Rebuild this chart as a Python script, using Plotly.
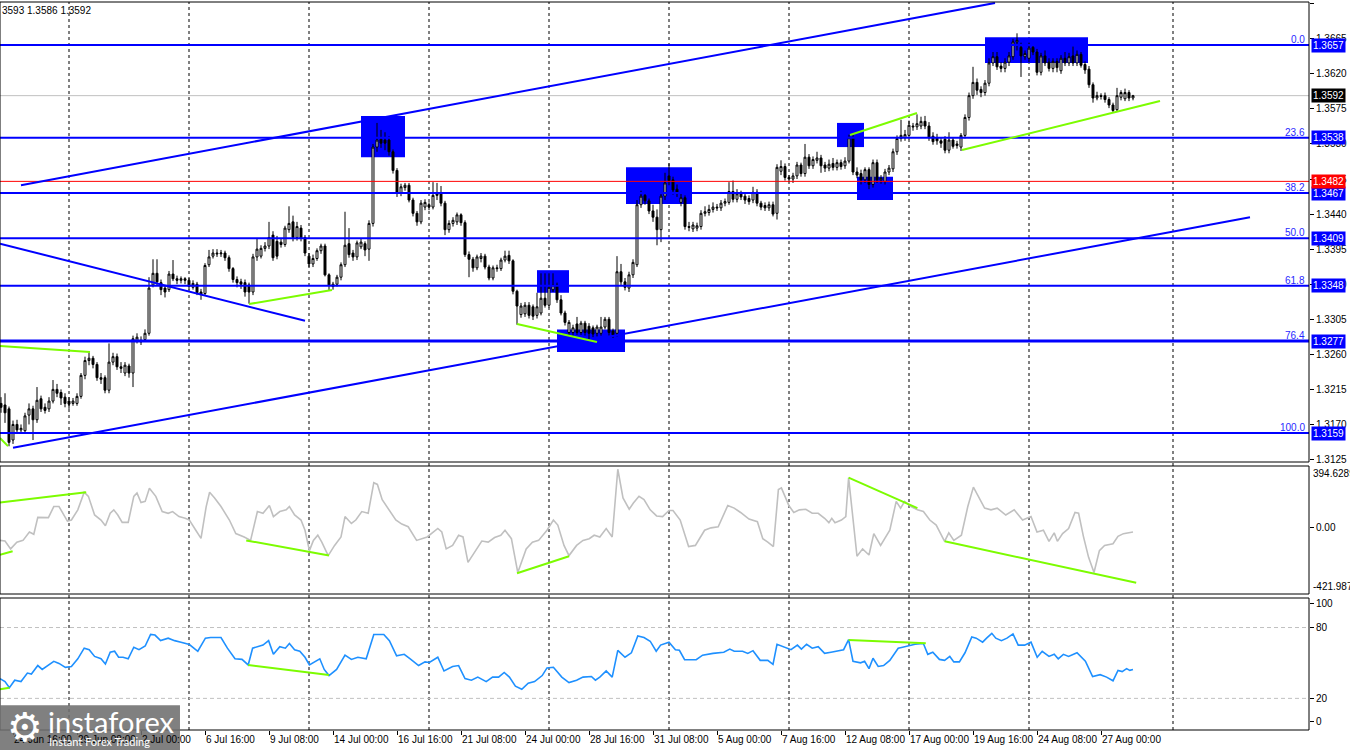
import plotly.graph_objects as go

# H4 chart, prices typed in pips above 1.3000, first bar index is -3
BASE = 1.3
FIRST_BAR = -3

open_pips = [
    197, 195, 190, 150, 170, 163, 162, 182, 190, 176, 203, 192, 190,
    200, 215, 211, 205, 200, 197, 197, 206, 233, 252,
    255, 247, 230, 230, 214, 250, 257, 244, 236, 245,
    236, 278, 276, 279, 287, 349, 364, 352, 345, 343,
    363, 357, 355, 357, 355, 346, 350, 340, 338, 375,
    386, 390, 389, 390, 384, 370, 356, 353, 352, 349,
    340, 385, 386, 396, 399, 413, 405, 404, 401, 420,
    430, 410, 422, 410, 386, 376, 383, 393, 399, 362,
    347, 350, 359, 375, 402, 390, 385, 398, 402, 395,
    428, 526, 536, 535, 535, 520, 496, 467, 474, 477,
    458, 441, 430, 449, 452, 449, 464, 466, 454, 420,
    428, 430, 439, 429, 388, 382, 371, 383, 386, 372,
    358, 371, 370, 381, 387, 380, 341, 311, 312, 323,
    321, 310, 313, 332, 323, 343, 349, 330, 313, 288,
    288, 299, 288, 300, 296, 294, 287, 287, 295, 305,
    290, 287, 366, 353, 345, 362, 375, 452, 464, 457,
    444, 436, 420, 463, 489, 484, 472, 455, 461, 424,
    421, 422, 424, 441, 442, 446, 449, 448, 454, 455,
    469, 459, 466, 463, 460, 458, 468, 454, 451, 448,
    452, 441, 495, 501, 487, 485, 489, 503, 492, 513,
    502, 509, 512, 503, 499, 505, 500, 506, 502, 508,
    538, 494, 492, 484, 497, 478, 506, 484, 482, 494,
    498, 520, 537, 538, 541, 553, 552, 553, 559, 553,
    540, 538, 534, 536, 522, 535, 528, 526, 541, 564,
    592, 609, 600, 596, 608, 634, 642, 630, 627, 635,
    642, 661, 654, 642, 640, 654, 648, 622, 643, 635,
    627, 636, 624, 640, 634, 643, 634, 645, 632, 626,
    606, 589, 592, 592, 587, 580, 574, 590, 588, 596, 589,
]
high_pips = [
    205, 210, 193, 175, 176, 170, 185, 197, 194, 218, 207, 197, 205,
    227, 222, 215, 210, 205, 204, 210, 236, 257, 262,
    258, 250, 236, 233, 274, 262, 261, 250, 250, 248,
    284, 287, 283, 292, 359, 382, 382, 356, 348, 367,
    381, 361, 360, 359, 358, 355, 353, 344, 377, 394,
    395, 395, 394, 393, 387, 372, 360, 357, 356, 352,
    389, 408, 400, 404, 430, 418, 412, 409, 425, 450,
    438, 430, 426, 413, 390, 388, 396, 402, 402, 364,
    353, 362, 378, 443, 422, 394, 406, 408, 405, 432,
    530, 557, 548, 545, 540, 523, 499, 479, 480, 480,
    461, 444, 458, 459, 455, 481, 480, 476, 457, 432,
    436, 442, 441, 432, 392, 385, 388, 390, 389, 375,
    374, 375, 384, 393, 393, 382, 343, 326, 327, 327,
    324, 339, 364, 364, 364, 364, 352, 336, 316, 304,
    298, 308, 303, 303, 300, 297, 298, 308, 308, 308,
    293, 386, 376, 358, 366, 382, 458, 470, 468, 460,
    452, 446, 468, 493, 505, 488, 478, 466, 464, 430,
    430, 429, 445, 450, 452, 455, 453, 458, 460, 481,
    483, 472, 470, 467, 464, 475, 472, 457, 455, 456,
    456, 504, 509, 505, 490, 493, 507, 506, 530, 517,
    514, 520, 516, 507, 510, 512, 510, 510, 513, 542,
    542, 500, 497, 500, 500, 510, 510, 490, 498, 503,
    524, 541, 561, 548, 560, 557, 568, 565, 566, 558,
    545, 543, 538, 540, 545, 538, 534, 544, 568, 596,
    629, 614, 604, 612, 640, 648, 648, 635, 640, 648,
    665, 672, 660, 650, 660, 658, 652, 647, 650, 640,
    640, 640, 644, 648, 647, 655, 650, 648, 636, 630,
    609, 597, 595, 596, 590, 583, 602, 599, 601, 599, 593,
]
low_pips = [
    185, 172, 142, 145, 158, 158, 158, 170, 150, 172, 186, 184, 186,
    197, 205, 195, 192, 190, 194, 194, 203, 228, 246,
    242, 226, 222, 210, 210, 246, 240, 236, 232, 230,
    218, 274, 272, 276, 284, 346, 349, 336, 333, 340,
    354, 350, 351, 350, 343, 343, 336, 330, 335, 372,
    383, 385, 385, 380, 366, 352, 346, 344, 334, 325,
    336, 380, 383, 392, 395, 380, 382, 397, 398, 416,
    405, 406, 405, 386, 372, 372, 380, 389, 360, 342,
    343, 347, 355, 372, 384, 380, 381, 395, 386, 380,
    424, 520, 525, 522, 515, 492, 462, 463, 470, 455,
    437, 425, 427, 445, 445, 446, 458, 450, 413, 416,
    424, 426, 425, 385, 359, 366, 368, 378, 369, 355,
    355, 366, 367, 378, 376, 337, 298, 307, 308, 306,
    304, 306, 310, 320, 320, 340, 326, 310, 297, 284,
    284, 285, 285, 284, 276, 282, 283, 284, 292, 284,
    281, 283, 349, 342, 340, 358, 372, 448, 452, 440,
    430, 400, 404, 458, 477, 465, 462, 450, 420, 418,
    417, 418, 420, 437, 438, 442, 444, 444, 450, 452,
    455, 455, 458, 453, 452, 454, 450, 445, 444, 444,
    437, 433, 490, 483, 481, 480, 485, 488, 488, 498,
    498, 505, 493, 494, 495, 496, 496, 497, 498, 505,
    490, 486, 478, 480, 472, 474, 480, 479, 478, 490,
    494, 516, 533, 534, 536, 547, 548, 549, 549, 534,
    529, 529, 525, 518, 518, 524, 524, 521, 537, 560,
    588, 593, 590, 592, 604, 630, 625, 622, 622, 630,
    638, 650, 616, 638, 635, 644, 618, 618, 630, 623,
    622, 622, 620, 630, 630, 630, 630, 628, 620, 602,
    583, 586, 587, 583, 576, 570, 571, 586, 585, 585, 586,
]
close_pips = [
    192, 185, 147, 170, 163, 165, 181, 190, 176, 201, 190, 188, 200,
    215, 210, 204, 197, 196, 200, 206, 233, 252, 255,
    247, 230, 228, 214, 250, 257, 244, 242, 246, 236,
    280, 282, 278, 287, 345, 364, 353, 343, 340, 363,
    357, 355, 357, 355, 347, 351, 339, 337, 374, 385,
    390, 389, 390, 384, 370, 356, 352, 350, 340, 340,
    385, 395, 396, 399, 410, 384, 386, 401, 422, 428,
    410, 424, 409, 390, 376, 383, 393, 399, 362, 349,
    350, 359, 375, 400, 388, 385, 403, 404, 394, 428,
    526, 535, 531, 531, 520, 496, 467, 475, 477, 458,
    441, 430, 454, 455, 449, 464, 466, 454, 420, 428,
    432, 439, 429, 388, 382, 371, 385, 386, 372, 358,
    371, 370, 381, 386, 380, 341, 322, 322, 323, 310,
    309, 321, 332, 323, 346, 349, 330, 313, 301, 301,
    294, 288, 300, 288, 287, 286, 295, 295, 305, 288,
    285, 366, 353, 346, 362, 378, 452, 463, 457, 444,
    436, 420, 463, 480, 483, 471, 467, 461, 424, 423,
    426, 425, 441, 443, 446, 449, 448, 454, 456, 469,
    459, 466, 462, 458, 456, 468, 454, 449, 448, 452,
    440, 500, 501, 487, 485, 489, 503, 492, 513, 502,
    510, 512, 502, 499, 504, 500, 506, 501, 508, 538,
    494, 490, 484, 497, 478, 506, 484, 486, 494, 499,
    520, 537, 541, 542, 554, 552, 556, 559, 553, 538,
    533, 534, 531, 522, 535, 527, 530, 541, 564, 592,
    609, 599, 596, 608, 634, 642, 629, 627, 635, 643,
    661, 663, 643, 646, 653, 648, 622, 643, 634, 627,
    636, 628, 640, 634, 642, 634, 645, 631, 625, 606,
    589, 592, 591, 587, 580, 573, 592, 596, 596, 589, 592,
]

# CCI and RSI polyline vertices: bar position, value
cci_bar = [
    -3.25, -2.0, -0.6, 0.96, 2.5, 4.1, 5.2, 6.2, 8.85, 10.2, 11.5, 12.5, 13.6, 14.6,
    16.2, 17.8, 18.85, 20.4, 22.0, 23.1, 24.3, 25.2, 26.2, 27.3, 28.8, 30.2, 31.0,
    32.0, 33.05, 34.1, 35.7, 37.3, 38.8, 39.9, 41.5, 43.05, 44.1, 45.7, 47.0, 48.3,
    49.15, 50.4, 52.0, 54.1, 55.7, 57.8, 59.4, 61.1, 62.5, 64.1, 65.1, 66.7, 68.3,
    69.1, 70.4, 72.0, 73.0, 74.1, 75.1, 76.2, 77.2, 78.8, 80.4, 82.0, 83.0, 84.6,
    85.7, 87.2, 88.8, 90.2, 91.1, 92.3, 94.1, 95.7, 97.2, 98.8, 100.9, 102.0, 103.55,
    106.2, 107.2, 108.3, 109.9, 111.4, 112.5, 113.75, 115.1, 117.2, 118.8, 120.4,
    121.95, 123.0, 124.6, 126.2, 128.3, 129.85, 131.4, 133.5, 135.1, 136.2, 137.75,
    139.0, 140.9, 142.5, 144.05, 145.3, 146.7, 148.3, 149.8, 151.2, 152.5, 154.05,
    155.1, 156.5, 157.75, 159.3, 160.9, 162.4, 164.0, 165.0, 166.8, 168.9, 170.6,
    172.9, 174.5, 176.3, 178.7, 180.3, 181.9, 184.0, 186.1, 187.45, 188.7, 190.1,
    191.35, 192.1, 194.0, 195.2, 196.6, 198.2, 199.8, 201.3, 202.9, 203.97, 204.7,
    205.5, 207.1, 208.2, 208.9, 209.5, 211.0, 212.4, 214.0, 215.2, 216.9, 219.2,
    220.8, 221.9, 222.9, 224.5, 226.1, 227.6, 229.2, 230.8, 232.9, 233.95, 235.2,
    237.1, 238.7, 240.1, 241.3, 242.9, 244.5, 246.05, 248.2, 250.3, 252.4, 254.5,
    256.0, 257.6, 259.0, 260.3, 261.1, 262.4, 263.9, 265.5, 266.4, 267.6, 268.9,
    270.25, 271.6, 272.9, 275.0, 276.25, 277.6, 280.0,
]
cci_val = [
    -80, -84, -134, -91, -80, -26, -41, 67, 65, 136, 136, 93, 43, 50,
    115, 227, 201, 82, 50, 13, 93, 115, 82, 35, 35, 201, 223,
    162, 169, 253, 201, 104, 93, 104, 72, 61, 50, -15, -67, 136,
    227, 191, 136, 50, -36, -58, -80, 104, 93, 143, 72, 104, 115,
    136, 82, 50, -15, -145, -80, -47, -91, -177, -112, -58, 72, 28,
    50, 104, 93, 288, 277, 180, 115, 50, 24, 7, -80, -69, -58,
    -4, -26, -134, -112, -47, -58, -220, -166, -84, -91, -62,
    -47, -15, -69, -285, -134, -91, -80, -15, 50, 18, -112,
    -177, -112, -80, -69, -47, -58, -4, -58, 374, 191, 119,
    158, 201, 180, 115, 76, 72, 111, 111, 50, -119, -112,
    -15, 0, 7, 143, 126, 98, 56, 39, -69, -91, -119,
    245, 255, 141, 98, 115, 119, 93, 93, 61, 33, 61,
    33, 50, 72, 320, 180, -181, -134, -173, -37, -112, -15,
    169, 126, 169, 136, 115, 104, 50, 18, -86, -32, -80,
    -47, 136, 260, 201, 126, 115, 126, 82, 115, 50, 72,
    -26, -15, -86, -32, -86, -37, -4, 98, 93, -54, -188,
    -285, -145, -112, -101, -54, -37, -26,
]
rsi_bar = [
    -3.25, -2.0, -0.9, 0.43, 2.0, 3.6, 4.6, 6.2, 7.3, 9.4, 10.2, 11.5, 13.1, 14.6,
    16.2, 17.8, 19.05, 20.4, 22.0, 23.1, 24.3, 25.4, 26.4, 27.5, 28.8, 30.2, 31.5,
    33.05, 34.4, 35.5, 36.9, 38.8, 40.4, 42.0, 44.1, 46.2, 48.1, 49.4, 52.0, 53.6,
    55.5, 57.25, 58.8, 59.9, 61.5, 62.5, 63.9, 65.1, 66.7, 68.1, 69.1, 70.4, 71.7,
    73.0, 74.1, 75.5, 76.7, 77.8, 79.0, 80.9, 83.0, 84.6, 86.2, 88.3, 90.2, 92.7,
    94.1, 95.9, 97.8, 99.3, 101.4, 103.0, 104.1, 106.2, 107.75, 109.9, 111.4, 113.0,
    114.6, 116.2, 118.3, 119.9, 121.4, 122.8, 124.1, 125.6, 127.2, 128.8, 130.4,
    132.3, 133.5, 135.1, 137.2, 139.0, 140.9, 142.5, 144.6, 145.6, 146.7, 148.3,
    149.8, 151.2, 153.0, 154.6, 156.2, 157.75, 159.3, 160.8, 161.9, 164.0, 165.6,
    166.6, 167.9, 170.8, 172.4, 175.0, 177.7, 179.2, 180.3, 182.4, 183.7, 185.0,
    186.8, 188.7, 190.0, 191.0, 192.9, 194.5, 196.1, 197.1, 198.4, 199.8, 201.3,
    202.9, 204.5, 207.65, 208.9, 210.0, 211.9, 212.9, 214.0, 215.0, 216.3, 217.65,
    219.2, 221.3, 222.4, 223.6, 225.5, 227.6, 228.7, 229.95, 231.6, 232.9, 234.2,
    235.2, 236.6, 238.0, 239.7, 240.8, 242.4, 243.4, 244.7, 245.7, 247.1, 248.5,
    250.0, 251.3, 252.9, 254.5, 256.05, 257.3, 259.0, 260.3, 261.3, 262.6, 263.9,
    266.0, 268.1, 269.9, 271.8, 273.4, 275.0, 276.25, 277.3, 278.4, 279.2, 280.0,
]
rsi_val = [
    36.7, 34.2, 29.0, 35.4, 34.2, 41.4, 40.6, 47.8, 44.5, 49.6, 51.4, 49.6, 46.3, 47.0,
    53.5, 62.5, 61.2, 55.5, 53.5, 49.1, 59.1, 59.9, 54.8, 54.8, 53.5, 63.3, 61.2,
    64.3, 74.1, 73.6, 68.9, 71.0, 68.9, 67.6, 65.6, 59.9, 71.0, 71.5, 71.5, 62.5,
    53.5, 53.0, 48.3, 62.5, 63.8, 65.1, 68.9, 57.3, 63.8, 62.5, 66.4, 61.2, 59.9,
    54.8, 48.3, 51.4, 53.5, 44.5, 39.3, 44.5, 56.6, 53.0, 54.8, 53.5, 74.1, 74.1,
    68.9, 56.1, 57.3, 53.5, 47.8, 50.9, 50.4, 54.8, 43.2, 47.0, 47.8, 36.7,
    35.4, 38.0, 34.2, 38.0, 38.0, 41.9, 38.0, 30.3, 27.7, 32.9, 34.2,
    39.3, 45.8, 46.3, 38.0, 33.4, 35.4, 38.0, 38.5, 35.4, 38.0, 43.2,
    38.0, 60.7, 54.8, 58.6, 72.8, 71.5, 68.4, 59.9, 65.1, 67.6, 61.2,
    60.7, 52.7, 52.7, 56.6, 58.1, 59.1, 61.7, 59.9, 59.9, 58.1, 60.4,
    52.2, 52.2, 48.8, 65.8, 63.3, 61.2, 65.1, 61.7, 65.8, 62.5, 63.8,
    58.1, 59.1, 61.2, 69.7, 51.4, 50.1, 51.4, 45.2, 54.0, 47.0, 47.8,
    52.2, 62.5, 63.3, 64.3, 65.8, 66.4, 57.3, 59.1, 53.0, 52.2, 55.5,
    50.9, 50.9, 58.6, 72.0, 71.0, 67.6, 71.0, 75.1, 71.0, 68.9, 71.0,
    74.6, 65.1, 65.1, 67.6, 54.8, 59.9, 55.5, 57.3, 53.5, 57.3, 55.5,
    58.6, 51.4, 38.5, 40.1, 38.0, 34.9, 43.7, 42.7, 45.2, 43.7, 44.5,
]

date_bars = [0, 16, 32, 48, 64, 80, 96, 112, 128, 144, 160, 176, 192, 208, 224, 240, 256, 272]
date_text = ["24 Jun 16:00", "29 Jun 08:00", "2 Jul 00:00", "6 Jul 16:00", "9 Jul 08:00",
             "14 Jul 00:00", "16 Jul 16:00", "21 Jul 08:00", "24 Jul 00:00", "28 Jul 16:00",
             "31 Jul 08:00", "5 Aug 00:00", "7 Aug 16:00", "12 Aug 08:00", "17 Aug 00:00",
             "19 Aug 16:00", "24 Aug 08:00", "27 Aug 00:00"]
grid_bars = [14, 44, 74, 104, 134, 164, 194, 224, 254, 290]

price_ticks = [1.3125, 1.3170, 1.3215, 1.3260, 1.3305, 1.3350, 1.3395, 1.3440,
               1.3485, 1.3530, 1.3575, 1.3620, 1.3665, 1.3710]
fib_levels = [1.3657, 1.3538, 1.3467, 1.3409, 1.3348, 1.3277, 1.3159]
fib_names = ["0.0", "23.6", "38.2", "50.0", "61.8", "76.4", "100.0"]
red_level = 1.3482
last_price = 1.3592
header = "3593 1.3586 1.3592"
cci_max, cci_min = 394.6289, -421.9874

# analyst drawings: (bar0, bar1, low, high) boxes and (bar0, v0, bar1, v1) lines
boxes = [(87, 98, 1.3513, 1.3566), (153.25, 169.75, 1.3453, 1.3500),
         (131, 139, 1.3339, 1.3368), (136, 153, 1.3263, 1.3292),
         (206, 212.75, 1.3526, 1.3557), (211, 220, 1.3458, 1.3488),
         (243, 268.75, 1.3634, 1.3667)]
channel_lines = [(2, 1.3477, 245.5, 1.3711), (0, 1.3140, 309.25, 1.3436),
                 (-3.25, 1.3402, 73, 1.3303)]
green_price = [(-3.25, 1.32706, 19.25, 1.32629), (-3.25, 1.31525, -1.25, 1.31422),
               (59, 1.33245, 79.75, 1.33425), (126, 1.32988, 146, 1.32757),
               (209.25, 1.35415, 226, 1.35697), (237.25, 1.35222, 286.75, 1.35851)]
green_cci = [(-3.25, 162, 18.3, 227), (-3.25, -171, -0.1, -149), (58.3, -80, 79, -177),
             (126, -290, 139, -181), (208.9, 320, 226.1, 126), (232.9, -86, 280.8, -350)]
green_rsi = [(-3.25, 27.7, -0.9, 29), (58.8, 48.3, 79, 39.8), (208.9, 69.4, 228.2, 66.7)]

BLUE = "#0000FF"
GREEN = "#7CFC00"
FONT = "Liberation Sans"

bars = list(range(FIRST_BAR, FIRST_BAR + len(close_pips)))
to_price = lambda seq: [BASE + v / 10000 for v in seq]

fig = go.Figure()
fig.add_trace(go.Candlestick(
    x=bars, open=to_price(open_pips), high=to_price(high_pips),
    low=to_price(low_pips), close=to_price(close_pips),
    increasing=dict(line=dict(color="black", width=1), fillcolor="white"),
    decreasing=dict(line=dict(color="black", width=1), fillcolor="black"),
    whiskerwidth=0, xaxis="x", yaxis="y", hoverinfo="skip"))
fig.add_trace(go.Scatter(x=cci_bar, y=cci_val, mode="lines", xaxis="x2", yaxis="y2",
                         line=dict(color="#C0C0C0", width=1.6), hoverinfo="skip"))
fig.add_trace(go.Scatter(x=rsi_bar, y=rsi_val, mode="lines", xaxis="x3", yaxis="y3",
                         line=dict(color="#1E90FF", width=1.6), hoverinfo="skip"))

main_dom = [0.36712, 0.99726]
cci_dom = [0.18630, 0.36164]
rsi_dom = [0.0, 0.18082]
xr = [-3.25, 324]

shapes = []
for g in grid_bars:
    shapes.append(dict(type="line", xref="x", yref="paper", x0=g, x1=g, y0=0, y1=main_dom[1],
                       line=dict(color="black", width=1, dash="3px,3px"), layer="below"))
for lvl in (80, 20):
    shapes.append(dict(type="line", xref="paper", yref="y3", x0=0, x1=1, y0=lvl, y1=lvl,
                       line=dict(color="#C0C0C0", width=1, dash="4px,3px"), layer="below"))
for b0, b1, lo, hi in boxes:
    shapes.append(dict(type="rect", xref="x", yref="y", x0=b0, x1=b1, y0=lo, y1=hi,
                       fillcolor=BLUE, line=dict(width=0), layer="below"))
shapes.append(dict(type="line", xref="paper", yref="y", x0=0, x1=1, y0=last_price, y1=last_price,
                   line=dict(color="#C0C0C0", width=1), layer="below"))
shapes.append(dict(type="line", xref="paper", yref="y", x0=0, x1=1, y0=red_level, y1=red_level,
                   line=dict(color="red", width=1)))
for lvl in fib_levels:
    shapes.append(dict(type="line", xref="paper", yref="y", x0=0, x1=1, y0=lvl, y1=lvl,
                       line=dict(color=BLUE, width=3 if lvl == 1.3277 else 2)))
for b0, v0, b1, v1 in channel_lines:
    shapes.append(dict(type="line", xref="x", yref="y", x0=b0, x1=b1, y0=v0, y1=v1,
                       line=dict(color=BLUE, width=2)))
for yref, segs in (("y", green_price), ("y2", green_cci), ("y3", green_rsi)):
    for b0, v0, b1, v1 in segs:
        shapes.append(dict(type="line", xref="x", yref=yref, x0=b0, x1=b1, y0=v0, y1=v1,
                           line=dict(color=GREEN, width=2)))
for dom in (main_dom, cci_dom, rsi_dom):
    shapes.append(dict(type="rect", xref="paper", yref="paper", x0=0, x1=1, y0=dom[0], y1=dom[1],
                       line=dict(color="black", width=1)))
# instaforex watermark box
shapes.append(dict(type="rect", xref="paper", yref="paper", x0=0, x1=0.1375, y0=-0.028, y1=0.034,
                   fillcolor="rgba(110,110,110,0.88)", line=dict(width=0)))

ann = []
small = dict(family=FONT, size=10, color="black")
for lvl, name in zip(fib_levels, fib_names):
    ann.append(dict(x=1, xref="paper", y=lvl, yref="y", text=name, showarrow=False,
                    xanchor="right", yanchor="bottom", xshift=-2, yshift=-2,
                    font=dict(family=FONT, size=10, color="#2828FF")))
    ann.append(dict(x=1, xref="paper", y=lvl, yref="y", text=f"{lvl:.4f}", showarrow=False,
                    xanchor="left", xshift=2, bgcolor=BLUE, borderpad=1,
                    font=dict(family=FONT, size=10, color="white")))
ann.append(dict(x=1, xref="paper", y=red_level, yref="y", text=f"{red_level:.4f}", showarrow=False,
                xanchor="left", xshift=2, bgcolor="red", borderpad=1,
                font=dict(family=FONT, size=10, color="white")))
ann.append(dict(x=1, xref="paper", y=last_price, yref="y", text=f"{last_price:.4f}", showarrow=False,
                xanchor="left", xshift=2, bgcolor="black", borderpad=1,
                font=dict(family=FONT, size=10, color="white")))
ann.append(dict(x=1, xref="paper", y=cci_max, yref="y2", text=f"{cci_max:.4f}", showarrow=False,
                xanchor="left", yanchor="top", xshift=2, font=small))
ann.append(dict(x=1, xref="paper", y=cci_min, yref="y2", text=f"{cci_min:.4f}", showarrow=False,
                xanchor="left", yanchor="bottom", xshift=2, font=small))
for b, t in zip(date_bars, date_text):
    ann.append(dict(x=b, xref="x3", y=0, yref="paper", text=t, showarrow=False,
                    xanchor="left", yanchor="top", xshift=-1, yshift=-2, font=small))
ann.append(dict(x=0, xref="paper", y=1, yref="paper", text=header, showarrow=False,
                xanchor="left", yanchor="top", yshift=-3, font=small))
ann.append(dict(x=0.004, xref="paper", y=0.004, yref="paper", text="\u2699", showarrow=False,
                xanchor="left", yanchor="middle", font=dict(family="DejaVu Sans", size=40, color="white")))
ann.append(dict(x=0.035, xref="paper", y=0.012, yref="paper", text="instaforex", showarrow=False,
                xanchor="left", yanchor="middle", font=dict(family="Lato", size=29, color="white")))
ann.append(dict(x=0.036, xref="paper", y=-0.016, yref="paper", text="Instant Forex Trading",
                showarrow=False, xanchor="left", yanchor="middle",
                font=dict(family="Lato", size=11, color="white")))

yax = dict(side="right", ticks="outside", ticklen=4, tickcolor="black", showgrid=False,
           zeroline=False, tickfont=small, fixedrange=True)
xax = dict(range=xr, showgrid=False, zeroline=False, showticklabels=False, fixedrange=True)

fig.update_layout(
    width=1350, height=750,
    margin=dict(l=0, r=41, t=0, b=20),
    paper_bgcolor="white", plot_bgcolor="white",
    showlegend=False,
    font=dict(family=FONT, size=10, color="black"),
    xaxis=dict(**xax, anchor="y", rangeslider=dict(visible=False)),
    xaxis2=dict(**xax, anchor="y2", matches="x"),
    xaxis3=dict(**xax, anchor="y3", matches="x", ticks="outside", ticklen=4,
                tickcolor="black", tickvals=date_bars),
    yaxis=dict(**yax, domain=main_dom, range=[1.31218, 1.37122], tickvals=price_ticks,
               ticktext=[f"{v:.4f}" for v in price_ticks]),
    yaxis2=dict(**yax, domain=cci_dom, range=[cci_min, cci_max], tickvals=[0], ticktext=["0.00"]),
    yaxis3=dict(**yax, domain=rsi_dom, range=[-6.8, 105], tickvals=[0, 20, 80, 100]),
    shapes=shapes, annotations=ann,
)

fig.write_html("out.html", config={"displayModeBar": False},
               post_script="document.body.style.margin='0';document.body.style.overflow='hidden';")
